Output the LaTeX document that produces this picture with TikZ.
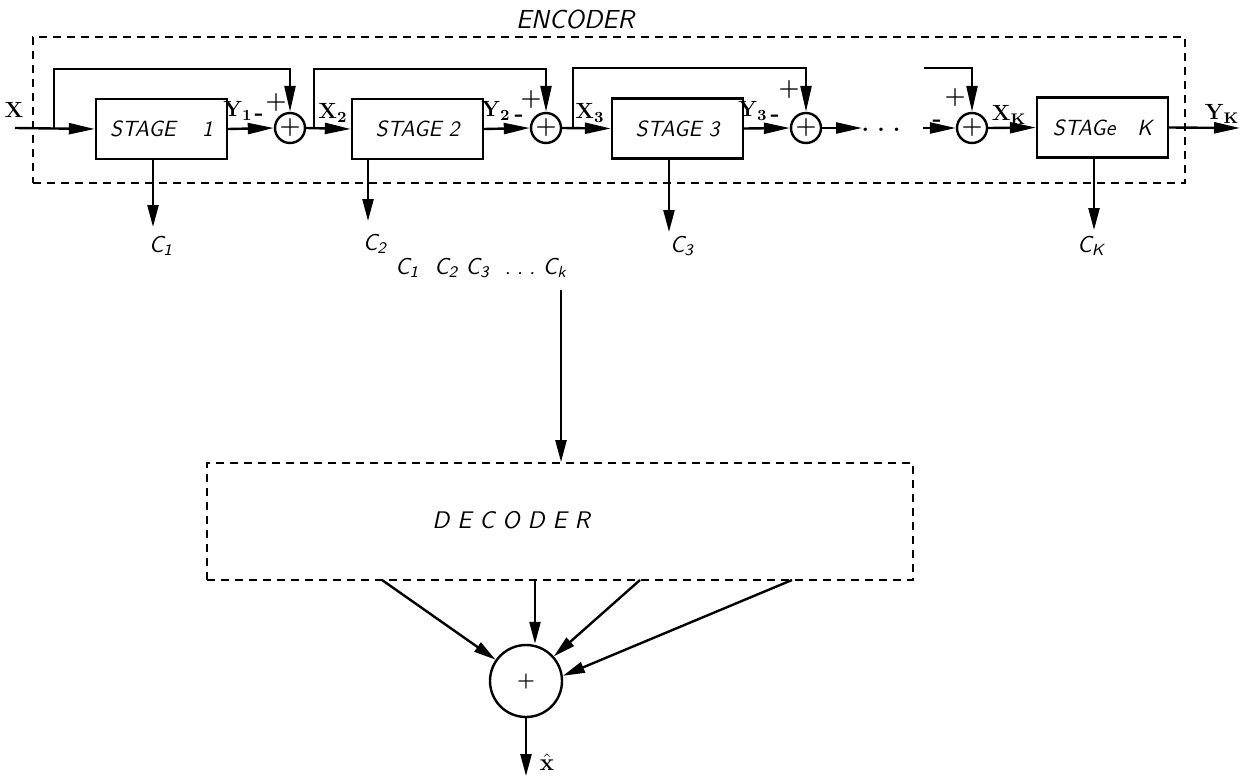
\documentclass[tikz,border=0pt]{standalone}
\usetikzlibrary{arrows.meta,calc}
\begin{document}
\begin{tikzpicture}[x=0.5pt,y=-0.5pt,
  ln/.style={line width=1.2pt},
  arr/.style={ln,-{Triangle[length=13pt,width=5.5pt]}},
  dn/.style={ln,-{Triangle[length=11pt,width=5.5pt]}},
  stagebox/.style={draw,line width=1.2pt,minimum width=65.5pt,minimum height=30pt,inner sep=0pt,font=\sffamily\itshape\fontsize{11}{13}\selectfont},
  sumnode/.style={draw,circle,line width=1.2pt,minimum size=15pt,inner sep=0pt,font=\bfseries\fontsize{12}{12}\selectfont},
  dbox/.style={draw,dash pattern=on 4pt off 3pt,line width=0.9pt},
  blbl/.style={font=\bfseries\fontsize{11}{13}\selectfont,inner sep=0pt},
  clbl/.style={font=\sffamily\itshape\fontsize{11.5}{13}\selectfont,inner sep=0pt},
  sgn/.style={font=\bfseries\fontsize{12}{12}\selectfont,inner sep=0pt}]
\useasboundingbox (0,0) rectangle (1240,776);

% encoder frame
\node[dbox,minimum width=576pt,minimum height=73pt] (enc) at (609,110) {};
\node[font=\sffamily\itshape\fontsize{13}{15}\selectfont,inner sep=0pt] (enclbl) at (575,19) {ENCODER};

% stages
\node[stagebox] (s1) at (161.5,129) {STAGE\hspace{1.2em}1};
\node[stagebox] (s2) at (417.5,129) {STAGE 2};
\node[stagebox] (s3) at (677.5,128.5) {STAGE 3};
\node[stagebox] (sK) at (1102.5,127.5) {STAGe\hspace{1em}K};

% summers
\node[sumnode] (a1) at (290,128) {+};
\node[sumnode] (a2) at (546,128) {+};
\node[sumnode] (a3) at (806,128) {+};
\node[sumnode] (a4) at (972,128) {+};

% coordinates
\coordinate (xin) at (15,128);
\coordinate (b1) at (54,128);  \coordinate (t1) at (290,69);
\coordinate (b2) at (314,128); \coordinate (t2) at (546,69);
\coordinate (b3) at (573,128); \coordinate (t3) at (806,68);
\coordinate (d1) at (862,128);
\coordinate (d2) at (923,128);
\coordinate (t4s) at (924,68); \coordinate (t4) at (972,68);
\coordinate (yk) at (1240,128);

% main path
\draw[arr] (xin) -- (s1.west);
\draw[arr] (s1.east) -- (a1.west);
\draw[arr] (a1.east) -- (s2.west);
\draw[arr] (s2.east) -- (a2.west);
\draw[arr] (a2.east) -- (s3.west);
\draw[arr] (s3.east) -- (a3.west);
\draw[arr] (a3.east) -- (d1);
\node[inner sep=0pt,font=\bfseries\large] (dots) at (881,130) {.\hspace{4pt}.\hspace{4pt}.};
\draw[arr] (d2) -- (a4.west);
\draw[arr] (a4.east) -- (sK.west);
\draw[arr] (sK.east) -- (yk);

% feedbacks
\draw[arr] (b1) -- (b1 |- t1) -- (t1) -- (a1.north);
\draw[arr] (b2) -- (b2 |- t2) -- (t2) -- (a2.north);
\draw[arr] (b3) -- (b3 |- t3) -- (t3) -- (a3.north);
\draw[arr] (t4s) -- (t4) -- (a4.north);

% labels on main path
\node[blbl] (lx) at (14,110) {X};
\node[blbl] (ly1) at (238,111) {Y\textsubscript{1}};
\node[sgn] (m1) at (259,117) {-};
\node[sgn] (p1) at (276,103) {+};
\node[blbl] (lx2) at (333,113) {X\textsubscript{2}};
\node[blbl] (ly2) at (496,111) {Y\textsubscript{2}};
\node[sgn] (m2) at (519,118) {-};
\node[sgn] (p2) at (531,100) {+};
\node[blbl] (lx3) at (590,113) {X\textsubscript{3}};
\node[blbl] (ly3) at (753,111) {Y\textsubscript{3}};
\node[sgn] (m3) at (775,118) {-};
\node[sgn] (p3) at (789,90) {+};
\node[sgn] (m4) at (937,123) {-};
\node[sgn] (p4) at (955,98) {+};
\node[blbl] (lxk) at (1009,115) {X\textsubscript{K}};
\node[blbl] (lyk) at (1222,114) {Y\textsubscript{K}};

% code outputs
\coordinate (c1) at (153,227);
\coordinate (c2) at (368,221);
\coordinate (c3) at (669,232);
\coordinate (cK) at (1094,230);
\draw[dn] (s1.south -| c1) -- (c1);
\draw[dn] (s2.south -| c2) -- (c2);
\draw[dn] (s3.south -| c3) -- (c3);
\draw[dn] (sK.south -| cK) -- (cK);
\node[clbl] (lc1) at (161,246) {C\textsubscript{1}};
\node[clbl] (lc2) at (375,244) {C\textsubscript{2}};
\node[clbl] (lc3) at (682,246) {C\textsubscript{3}};
\node[clbl] (lcK) at (1091,246) {C\textsubscript{K}};
\node[clbl] (crow) at (481,268) {C\textsubscript{1}\ \ C\textsubscript{2}\ C\textsubscript{3}\ \ .\hspace{3pt}.\hspace{3pt}.\ C\textsubscript{k}};

% decoder
\node[dbox,minimum width=353pt,minimum height=58.5pt] (dec) at (560,521.5) {};
\node[font=\sffamily\itshape\fontsize{12}{14}\selectfont,inner sep=0pt] (declbl) at (511,520) {D\,\,E\,\,C\,\,O\,\,D\,\,E\,\,R};
\coordinate (cr) at (561,290);
\draw[dn] (cr) -- (cr |- dec.north);

% final summer
\node[draw,circle,line width=1.2pt,minimum size=36pt,inner sep=0pt,font=\bfseries] (bs) at (526,681) {+};
\coordinate (o1) at (382,580);
\coordinate (o2) at (535,580);
\coordinate (o3) at (640,580);
\coordinate (o4) at (792,580);
\draw[dn] (o1) -- (bs);
\draw[dn] (o2) -- (o2 |- bs.north);
\draw[dn] (o3) -- (bs);
\draw[dn] (o4) -- (bs.8);
\coordinate (xh) at (526,776);
\draw[dn] (bs.south) -- (xh);
\node[inner sep=0pt,font=\large] (lxh) at (547,762) {$\hat{\mathbf{x}}$};
\end{tikzpicture}
\end{document}
